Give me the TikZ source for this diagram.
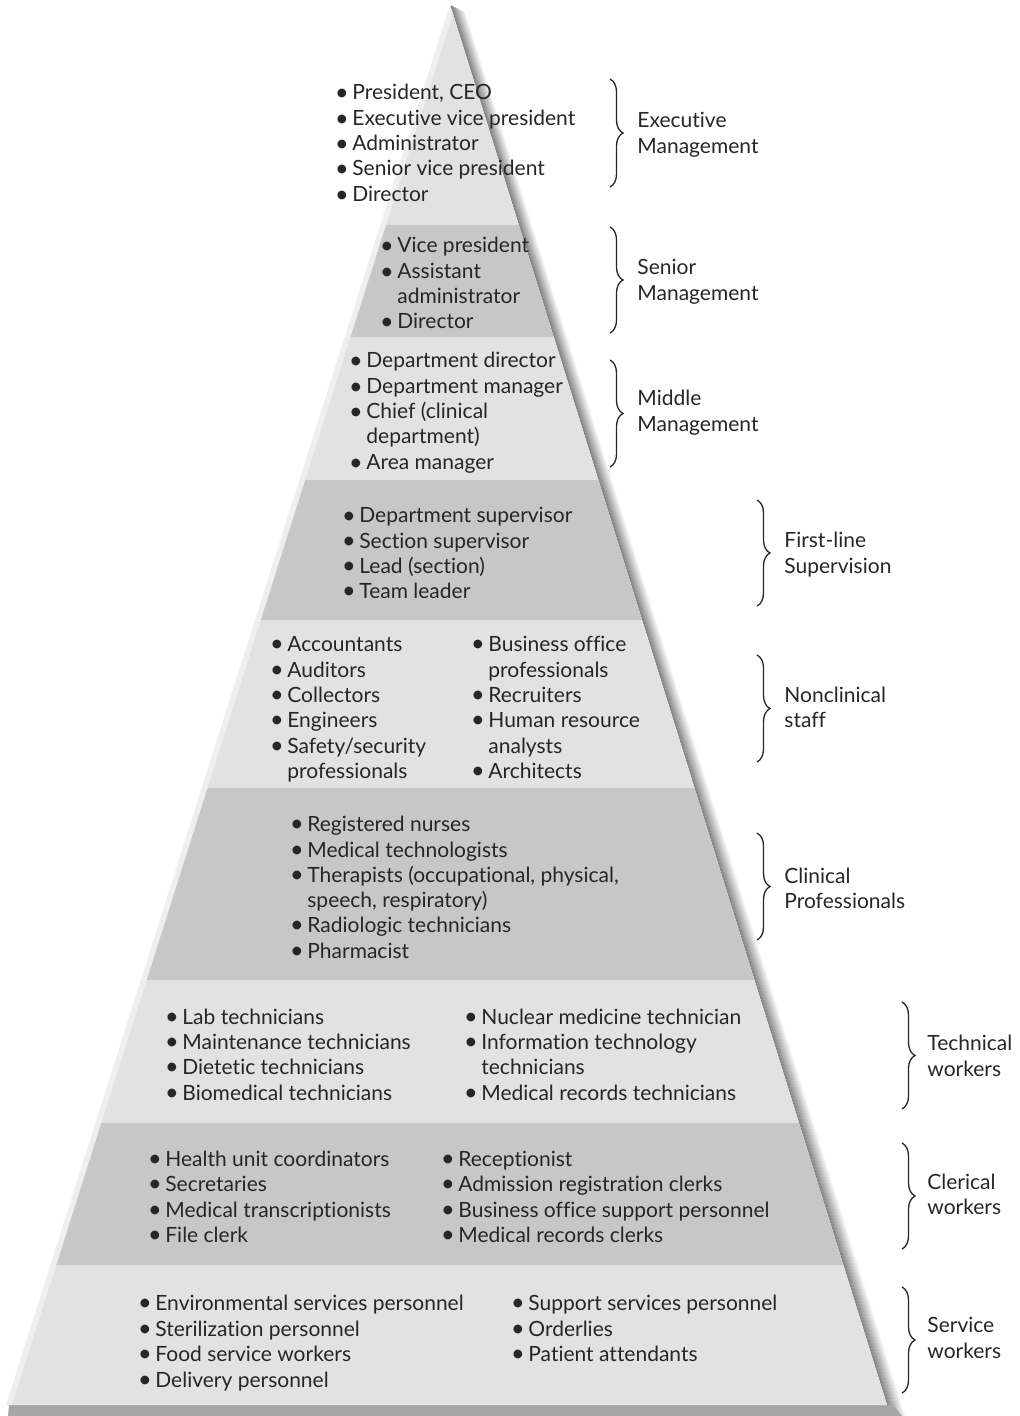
\documentclass[tikz,border=0pt]{standalone}
\usepackage{fontspec}
\setmainfont{Lato}[Ligatures={NoCommon}]
\usetikzlibrary{decorations.pathreplacing}
\definecolor{bandlight}{HTML}{E2E2E2}
\definecolor{banddark}{HTML}{C7C7C7}
\definecolor{bevel}{HTML}{EFEFEF}
\definecolor{ink}{HTML}{262626}
\definecolor{baseshadow}{HTML}{A6A6A6}
\newcommand\bul{\makebox[7.5pt][l]{\hspace*{-1.2pt}\raisebox{-0.02em}{\scalebox{1.12}{\textbullet}}}}
\begin{document}
\begin{tikzpicture}[x=0.5pt,y=-0.5pt,
  txt/.style={font=\fontsize{10.5}{12}\selectfont, text=ink, inner sep=0pt, anchor=base west},
  brc/.style={decorate, decoration={brace, amplitude=6.5pt}, draw=black!85, line width=0.65pt}]
\useasboundingbox (0,0) rectangle (1020,1416);
% right shadow
\foreach \d in {15,14,...,1} {
  \pgfmathtruncatemacro\c{max(0,52-3.3*\d)}
  \draw[black!\c, line width=0.6pt] (450+\d, 5+\d*0.5) -- (890+\d, 1416);
}
% bottom shadow
\fill[baseshadow] (9,1405) -- (893,1405) -- (902,1416) -- (8,1416) -- cycle;
% pyramid body
\fill[bevel] (450,5) -- (6,1405) -- (887,1405) -- cycle;
\begin{scope}
  \clip (453,14) -- (12,1405) -- (887,1405) -- cycle;
  \fill[bandlight] (0,0) rectangle (1020,225);
  \fill[banddark]  (0,225) rectangle (1020,337);
  \fill[bandlight] (0,337) rectangle (1020,480);
  \fill[banddark]  (0,480) rectangle (1020,620);
  \fill[bandlight] (0,620) rectangle (1020,788);
  \fill[banddark]  (0,788) rectangle (1020,980);
  \fill[bandlight] (0,980) rectangle (1020,1123);
  \fill[banddark]  (0,1123) rectangle (1020,1265);
  \fill[bandlight] (0,1265) rectangle (1020,1405);
\end{scope}
% Executive
\node[txt] (e1) at (337,100) {\bul President, CEO};
\node[txt] (e2) at (337,126) {\bul Executive vice president};
\node[txt] (e3) at (337,151) {\bul Administrator};
\node[txt] (e4) at (337,176) {\bul Senior vice president};
\node[txt] (e5) at (337,202) {\bul Director};
% Senior
\node[txt] (s1) at (382,253) {\bul Vice president};
\node[txt] (s2) at (382,279) {\bul Assistant};
\node[txt] (s3) at (397,304) {administrator};
\node[txt] (s4) at (382,329) {\bul Director};
% Middle
\node[txt] (m1) at (351,368) {\bul Department director};
\node[txt] (m2) at (351,394) {\bul Department manager};
\node[txt] (m3) at (351,419) {\bul Chief (clinical};
\node[txt] (m4) at (366,444) {department)};
\node[txt] (m5) at (351,470) {\bul Area manager};
% First-line
\node[txt] (f1) at (344,523) {\bul Department supervisor};
\node[txt] (f2) at (344,548) {\bul Section supervisor};
\node[txt] (f3) at (344,573) {\bul Lead (section)};
\node[txt] (f4) at (344,598) {\bul Team leader};
% Nonclinical
\node[txt] (n1) at (272,651) {\bul Accountants};
\node[txt] (n2) at (272,677) {\bul Auditors};
\node[txt] (n3) at (272,702) {\bul Collectors};
\node[txt] (n4) at (272,727) {\bul Engineers};
\node[txt] (n5) at (272,753) {\bul Safety/security};
\node[txt] (n6) at (287,778) {professionals};
\node[txt] (n7) at (473,651) {\bul Business office};
\node[txt] (n8) at (488,677) {professionals};
\node[txt] (n9) at (473,702) {\bul Recruiters};
\node[txt] (n10) at (473,727) {\bul Human resource};
\node[txt] (n11) at (488,753) {analysts};
\node[txt] (n12) at (473,778) {\bul Architects};
% Clinical
\node[txt] (c1) at (292,831) {\bul Registered nurses};
\node[txt] (c2) at (292,857) {\bul Medical technologists};
\node[txt] (c3) at (292,882) {\bul Therapists (occupational, physical,};
\node[txt] (c4) at (307,907) {speech, respiratory)};
\node[txt] (c5) at (292,932) {\bul Radiologic technicians};
\node[txt] (c6) at (292,958) {\bul Pharmacist};
% Technical
\node[txt] (t1) at (167,1024) {\bul Lab technicians};
\node[txt] (t2) at (167,1049) {\bul Maintenance technicians};
\node[txt] (t3) at (167,1074) {\bul Dietetic technicians};
\node[txt] (t4) at (167,1100) {\bul Biomedical technicians};
\node[txt] (t5) at (466,1024) {\bul Nuclear medicine technician};
\node[txt] (t6) at (466,1049) {\bul Information technology};
\node[txt] (t7) at (481,1074) {technicians};
\node[txt] (t8) at (466,1100) {\bul Medical records technicians};
% Clerical
\node[txt] (k1) at (150,1166) {\bul Health unit coordinators};
\node[txt] (k2) at (150,1191) {\bul Secretaries};
\node[txt] (k3) at (150,1217) {\bul Medical transcriptionists};
\node[txt] (k4) at (150,1242) {\bul File clerk};
\node[txt] (k5) at (443,1166) {\bul Receptionist};
\node[txt] (k6) at (443,1191) {\bul Admission registration clerks};
\node[txt] (k7) at (443,1217) {\bul Business office support personnel};
\node[txt] (k8) at (443,1242) {\bul Medical records clerks};
% Service
\node[txt] (v1) at (140,1310) {\bul Environmental services personnel};
\node[txt] (v2) at (140,1336) {\bul Sterilization personnel};
\node[txt] (v3) at (140,1361) {\bul Food service workers};
\node[txt] (v4) at (140,1387) {\bul Delivery personnel};
\node[txt] (v5) at (513,1310) {\bul Support services personnel};
\node[txt] (v6) at (513,1336) {\bul Orderlies};
\node[txt] (v7) at (513,1361) {\bul Patient attendants};
% Labels
\node[txt] (L1a) at (637,128) {Executive};
\node[txt] (L1b) at (637,154) {Management};
\node[txt] (L2a) at (637,275) {Senior};
\node[txt] (L2b) at (637,301) {Management};
\node[txt] (L3a) at (637,406) {Middle};
\node[txt] (L3b) at (637,432) {Management};
\node[txt] (L4a) at (784,547) {First-line};
\node[txt] (L4b) at (784,573) {Supervision};
\node[txt] (L5a) at (784,702) {Nonclinical};
\node[txt] (L5b) at (784,727) {staff};
\node[txt] (L6a) at (784,883) {Clinical};
\node[txt] (L6b) at (784,908) {Professionals};
\node[txt] (L7a) at (927,1050) {Technical};
\node[txt] (L7b) at (927,1076) {workers};
\node[txt] (L8a) at (927,1189) {Clerical};
\node[txt] (L8b) at (927,1214) {workers};
\node[txt] (L9a) at (927,1332) {Service};
\node[txt] (L9b) at (927,1358) {workers};
% Braces
\coordinate (b1t) at (610,79);   \coordinate (b1b) at (610,187);
\coordinate (b2t) at (610,227);  \coordinate (b2b) at (610,333);
\coordinate (b3t) at (610,360);  \coordinate (b3b) at (610,467);
\coordinate (b4t) at (757,500);  \coordinate (b4b) at (757,606);
\coordinate (b5t) at (757,655);  \coordinate (b5b) at (757,762);
\coordinate (b6t) at (757,833);  \coordinate (b6b) at (757,940);
\coordinate (b7t) at (902,1002); \coordinate (b7b) at (902,1109);
\coordinate (b8t) at (902,1143); \coordinate (b8b) at (902,1249);
\coordinate (b9t) at (902,1287); \coordinate (b9b) at (902,1393);
\foreach \i in {1,...,9} { \draw[brc] (b\i t) -- (b\i b); }
\end{tikzpicture}
\end{document}
